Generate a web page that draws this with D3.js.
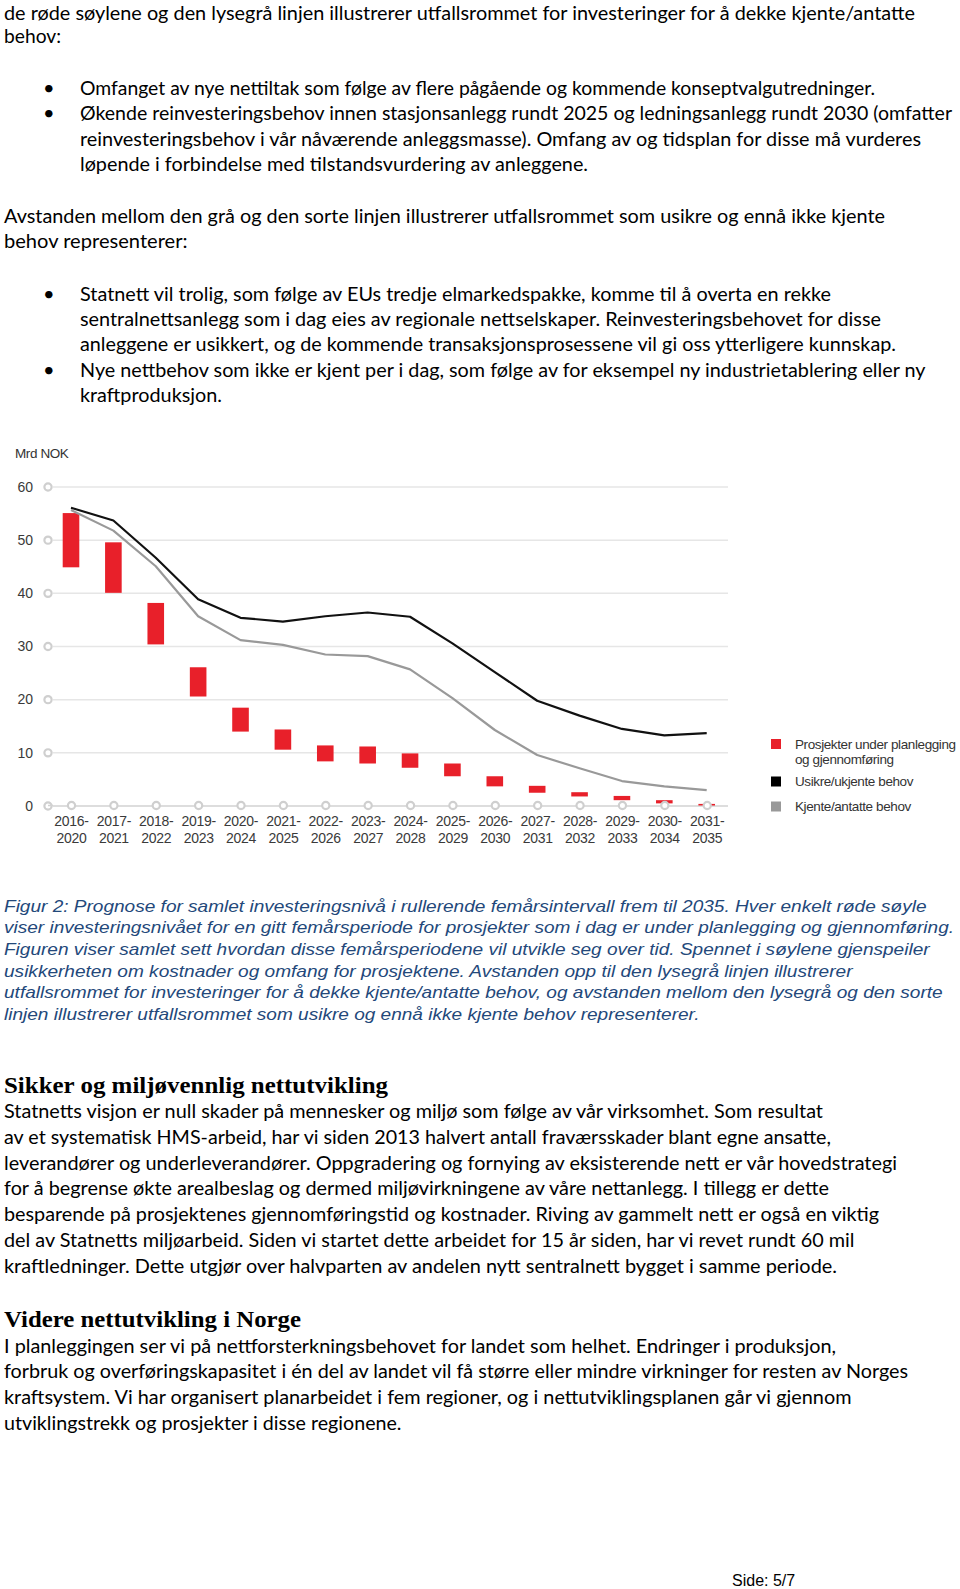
<!DOCTYPE html>
<html>
<head>
<meta charset="utf-8">
<script src="https://d3js.org/d3.v7.min.js"></script>
<style>
  html, body { margin: 0; padding: 0; background: #fff; }
  svg { display: block; }
</style>
</head>
<body>
<script>
// ---------------- DATA ----------------
const categories = ["2016-2020","2017-2021","2018-2022","2019-2023","2020-2024","2021-2025","2022-2026","2023-2027","2024-2028","2025-2029","2026-2030","2027-2031","2028-2032","2029-2033","2030-2034","2031-2035"];
const barLow  = [44.8, 40.0, 30.3, 20.5, 13.9, 10.5, 8.3, 7.9, 7.1, 5.5, 3.6, 2.4, 1.7, 1.0, 0.4, 0.0];
const barHigh = [55.0, 49.5, 38.1, 26.0, 18.4, 14.3, 11.3, 11.1, 9.8, 7.9, 5.5, 3.7, 2.5, 1.8, 1.0, 0.3];
const usikre  = [56.0, 53.6, 46.6, 38.8, 35.3, 34.6, 35.6, 36.3, 35.5, 30.5, 25.1, 19.7, 16.9, 14.4, 13.2, 13.6];
const kjente  = [55.6, 51.7, 45.0, 35.6, 31.1, 30.2, 28.4, 28.1, 25.6, 20.2, 14.2, 9.5, 7.0, 4.6, 3.6, 2.9];
const yTicks  = [0, 10, 20, 30, 40, 50, 60];
const unitLabel = "Mrd NOK";
const legendLabels = [["Prosjekter under planlegging", "og gjennomføring"], ["Usikre/ukjente behov"], ["Kjente/antatte behov"]];

// ---------------- PAGE TEXT ----------------
const para1 = ["de røde søylene og den lysegrå linjen illustrerer utfallsrommet for investeringer for å dekke kjente/antatte", "behov:"];
const bullets1 = ["Omfanget av nye nettiltak som følge av flere pågående og kommende konseptvalgutredninger.",
  "Økende reinvesteringsbehov innen stasjonsanlegg rundt 2025 og ledningsanlegg rundt 2030 (omfatter",
  "reinvesteringsbehov i vår nåværende anleggsmasse). Omfang av og tidsplan for disse må vurderes",
  "løpende i forbindelse med tilstandsvurdering av anleggene."];
const para2 = ["Avstanden mellom den grå og den sorte linjen illustrerer utfallsrommet som usikre og ennå ikke kjente", "behov representerer:"];
const bullets2 = ["Statnett vil trolig, som følge av EUs tredje elmarkedspakke, komme til å overta en rekke",
  "sentralnettsanlegg som i dag eies av regionale nettselskaper. Reinvesteringsbehovet for disse",
  "anleggene er usikkert, og de kommende transaksjonsprosessene vil gi oss ytterligere kunnskap.",
  "Nye nettbehov som ikke er kjent per i dag, som følge av for eksempel ny industrietablering eller ny",
  "kraftproduksjon."];
const caption = ["Figur 2: Prognose for samlet investeringsnivå i rullerende femårsintervall frem til 2035. Hver enkelt røde søyle",
  "viser investeringsnivået for en gitt femårsperiode for prosjekter som i dag er under planlegging og gjennomføring.",
  "Figuren viser samlet sett hvordan disse femårsperiodene vil utvikle seg over tid. Spennet i søylene gjenspeiler",
  "usikkerheten om kostnader og omfang for prosjektene. Avstanden opp til den lysegrå linjen illustrerer",
  "utfallsrommet for investeringer for å dekke kjente/antatte behov, og avstanden mellom den lysegrå og den sorte",
  "linjen illustrerer utfallsrommet som usikre og ennå ikke kjente behov representerer."];
const heading1 = "Sikker og miljøvennlig nettutvikling";
const body1 = ["Statnetts visjon er null skader på mennesker og miljø som følge av vår virksomhet. Som resultat",
  "av et systematisk HMS-arbeid, har vi siden 2013 halvert antall fraværsskader blant egne ansatte,",
  "leverandører og underleverandører. Oppgradering og fornying av eksisterende nett er vår hovedstrategi",
  "for å begrense økte arealbeslag og dermed miljøvirkningene av våre nettanlegg. I tillegg er dette",
  "besparende på prosjektenes gjennomføringstid og kostnader. Riving av gammelt nett er også en viktig",
  "del av Statnetts miljøarbeid. Siden vi startet dette arbeidet for 15 år siden, har vi revet rundt 60 mil",
  "kraftledninger. Dette utgjør over halvparten av andelen nytt sentralnett bygget i samme periode."];
const heading2 = "Videre nettutvikling i Norge";
const body2 = ["I planleggingen ser vi på nettforsterkningsbehovet for landet som helhet. Endringer i produksjon,",
  "forbruk og overføringskapasitet i én del av landet vil få større eller mindre virkninger for resten av Norges",
  "kraftsystem. Vi har organisert planarbeidet i fem regioner, og i nettutviklingsplanen går vi gjennom",
  "utviklingstrekk og prosjekter i disse regionene."];
const footer = "Side: 5/7";

// ---------------- LAYOUT (positions / widths) ----------------
const W = 960, H = 1589;
const bodyFont = "Lato, 'Open Sans', sans-serif";
const capFont = "'Liberation Sans', Arial, sans-serif";
const headFont = "'Liberation Serif', 'DejaVu Serif', serif";

const svg = d3.select("body").append("svg").attr("width", W).attr("height", H);
svg.append("rect").attr("width", W).attr("height", H).attr("fill", "#fff");

function block(lines, x, y0, step, widths, opts) {
  const g = svg.append("g");
  lines.forEach((t, i) => {
    const el = g.append("text")
      .attr("x", x).attr("y", y0 + i * step)
      .attr("font-family", opts.font).attr("font-size", opts.size)
      .attr("font-style", opts.style || "normal")
      .attr("font-weight", opts.weight || "normal")
      .attr("fill", opts.fill || "#000")
      .text(t);
    if (widths && widths[i]) el.attr("textLength", widths[i]).attr("lengthAdjust", "spacingAndGlyphs");
  });
  return g;
}
function bulletsAt(x, ys) {
  ys.forEach(y => svg.append("text").attr("x", x).attr("y", y)
    .attr("font-family", bodyFont).attr("font-size", 20).attr("fill", "#000").text("•"));
}

const bodyOpts = {font: bodyFont, size: 19.5, fill: "#000"};
block([para1[0]], 4, 19.5, 0, [911], bodyOpts);
block([para1[1]], 4, 43, 0, [57], bodyOpts);
block(bullets1, 80, 95, 25.4, [795, 872, 841, 508], bodyOpts);
bulletsAt(43, [95, 120.4]);
block(para2, 4, 223, 25.4, [881, 183.5], bodyOpts);
block(bullets2, 80, 300.5, 25.4, [751, 801, 816, 845.5, 142], bodyOpts);
bulletsAt(43, [300.5, 376.7]);

block(caption, 4, 911.5, 21.7, [922.5, 950, 925.6, 848.5, 938.7, 695.5],
  {font: capFont, size: 17, style: "italic", fill: "#23487a"});

block([heading1], 4, 1093, 0, [384], {font: headFont, size: 23, weight: "bold", fill: "#000"});
block(body1, 4, 1118, 25.8, [819, 827, 893, 825, 875, 850.5, 833], bodyOpts);
block([heading2], 4, 1327, 0, [297], {font: headFont, size: 23, weight: "bold", fill: "#000"});
block(body2, 4, 1352.5, 25.7, [832, 904, 847.5, 397.5], bodyOpts);

svg.append("text").attr("x", 732).attr("y", 1586)
  .attr("font-family", capFont).attr("font-size", 16).attr("fill", "#000").text(footer);

// ---------------- CHART ----------------
const chartFont = "'Liberation Sans', Arial, Helvetica, sans-serif";
const gridX0 = 53, gridX1 = 728;
const x = d3.scalePoint().domain(categories).range([71, 706.7]);
const y = d3.scaleLinear().domain([0, 60]).range([805.5, 486.5]);
const chart = svg.append("g");

// unit label
chart.append("text").attr("x", 15).attr("y", 457.5)
  .attr("font-family", chartFont).attr("font-size", 13.5).attr("letter-spacing", -0.4)
  .attr("fill", "#333").text(unitLabel);

// y axis with gridlines
const yAxis = d3.axisLeft(y).tickValues(yTicks).tickSize(-(gridX1 - gridX0)).tickPadding(20).tickFormat(d3.format("d"));
const yg = chart.append("g").attr("transform", `translate(${gridX0},0)`).call(yAxis);
yg.select(".domain").remove();
yg.selectAll(".tick line").attr("stroke", d => d === 0 ? "#d2d2d2" : "#e6e6e6").attr("stroke-width", 1.5);
yg.selectAll(".tick text").attr("font-family", chartFont).attr("font-size", 14).attr("fill", "#3a3a3a").attr("dy", "0.34em");
yg.selectAll(".tick").append("circle").attr("cx", -5).attr("cy", 0).attr("r", 3.6)
  .attr("fill", "#fff").attr("stroke", "#cfcfcf").attr("stroke-width", 2.2);
chart.append("line").attr("x1", gridX0 - 5).attr("x2", gridX0).attr("y1", y(0)).attr("y2", y(0))
  .attr("stroke", "#d2d2d2").attr("stroke-width", 1.5);

// bars
const barW = 16.6;
chart.append("g").selectAll("rect").data(categories).join("rect")
  .attr("x", d => x(d) - barW / 2)
  .attr("width", barW)
  .attr("y", (d, i) => y(barHigh[i]))
  .attr("height", (d, i) => y(barLow[i]) - y(barHigh[i]))
  .attr("fill", "#e8202a");

// lines
const lineGen = arr => d3.line().x((d, i) => x(categories[i])).y(d => y(d)).curve(d3.curveLinear)(arr);
chart.append("path").attr("d", lineGen(kjente)).attr("fill", "none").attr("stroke", "#999")
  .attr("stroke-width", 2.2).attr("stroke-linejoin", "round");
chart.append("path").attr("d", lineGen(usikre)).attr("fill", "none").attr("stroke", "#111")
  .attr("stroke-width", 2.2).attr("stroke-linejoin", "round");

// x axis
const xAxis = d3.axisBottom(x).tickSize(0).tickPadding(0);
const xg = chart.append("g").attr("transform", `translate(0,${y(0)})`).call(xAxis);
xg.select(".domain").remove();
xg.selectAll(".tick").insert("circle", "text").attr("cx", 0).attr("cy", 0).attr("r", 3.6)
  .attr("fill", "#fff").attr("stroke", "#cfcfcf").attr("stroke-width", 2.2);
xg.selectAll(".tick text").each(function(d) {
  const parts = d.split("-");
  const t = d3.select(this).text(null)
    .attr("font-family", chartFont).attr("font-size", 14).attr("fill", "#3a3a3a")
    .attr("letter-spacing", -0.3).attr("y", 0).attr("dy", null);
  t.append("tspan").attr("x", 0).attr("y", 20).text(parts[0] + "-");
  t.append("tspan").attr("x", 0).attr("y", 37).text(parts[1]);
});

// legend
const legendColors = ["#e8202a", "#000", "#999"];
const legendY = [744, 781.5, 806.5];
const lg = chart.append("g");
legendLabels.forEach((lines, i) => {
  lg.append("rect").attr("x", 771).attr("y", legendY[i] - 5).attr("width", 10).attr("height", 10).attr("fill", legendColors[i]);
  const t = lg.append("text").attr("font-family", chartFont).attr("font-size", 13.5).attr("fill", "#333").attr("letter-spacing", -0.4);
  lines.forEach((l, j) => t.append("tspan").attr("x", 795).attr("y", legendY[i] + 4.8 + j * 15.5).text(l));
});
</script>
</body>
</html>
